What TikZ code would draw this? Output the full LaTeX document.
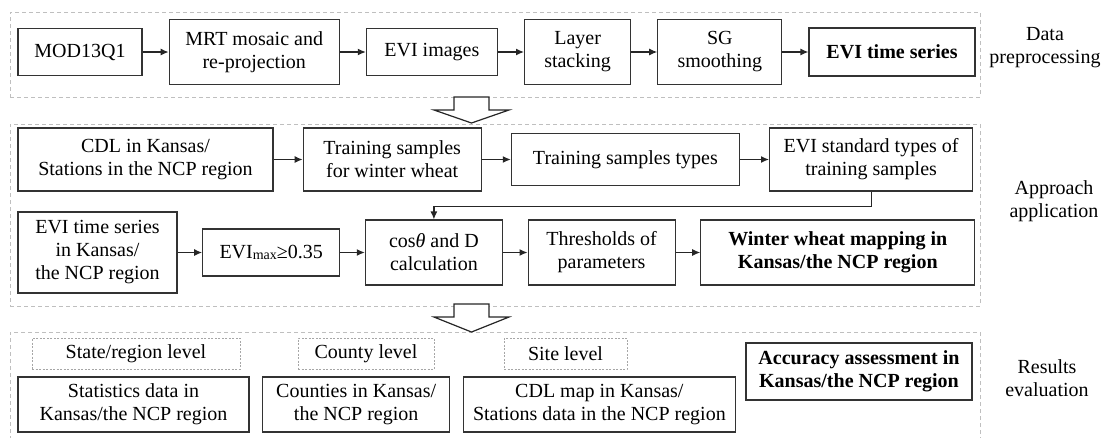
\documentclass[tikz,border=0pt]{standalone}
\usepackage{fontspec}
\setmainfont{Liberation Serif}
\usetikzlibrary{positioning,arrows.meta}

\begin{document}
\begin{tikzpicture}[
  x=1pt, y=-1pt,
  font=\fontsize{20}{23}\selectfont,
  box/.style={draw=black!80, line width=1.2pt, align=center, inner sep=2pt},
  result/.style={box, font=\fontsize{20}{23}\selectfont\bfseries},
  stage/.style={draw=black!25, dash pattern=on 4pt off 3pt, line width=0.9pt, inner sep=0pt},
  level/.style={draw=black!35, dash pattern=on 2pt off 1.5pt, line width=0.8pt, align=center},
  tag/.style={align=center},
  arrow/.style={-{Latex[length=8pt,width=7pt]}, line width=1.2pt, draw=black!85},
  bigarrow/.style={draw=black!85, line width=1.2pt, fill=white}
]
\useasboundingbox (0,0) rectangle (1104,437);
\clip (0,0) rectangle (1104,437);

% stage frames
\node[stage, minimum width=970, minimum height=85] (prepframe) at (495,54.5) {};
\node[stage, minimum width=970, minimum height=182] (apprframe) at (495,215) {};
\node[stage, minimum width=970, minimum height=140] (evalframe) at (495,402) {};

% data preprocessing
\node[box, minimum width=124, minimum height=47] (mod) at (80,52) {MOD13Q1};
\node[box, minimum width=170, minimum height=65, right=26pt of mod] (mrt) {MRT mosaic and\\re-projection};
\node[box, minimum width=131, minimum height=47, right=26pt of mrt] (evi) {EVI images};
\node[box, minimum width=106, minimum height=65, right=26pt of evi] (layer) {Layer\\stacking};
\node[box, minimum width=124, minimum height=65, right=26pt of layer] (sg) {SG\\smoothing};
\node[result, minimum width=166, minimum height=48, right=26pt of sg] (evits) {EVI time series};

% approach application
\node[box, minimum width=255, minimum height=63] (cdl) at (145.5,159.5) {CDL in Kansas/\\Stations in the NCP region};
\node[box, minimum width=178, minimum height=63, right=29pt of cdl] (train) {Training samples\\for winter wheat};
\node[box, minimum width=228, minimum height=52, right=29pt of train] (types) {Training samples types};
\node[box, minimum width=203, minimum height=63, right=29pt of types] (std) {EVI standard types of\\training samples};

\node[box, minimum width=159, minimum height=81] (tsk) at (97.5,252.5) {EVI time series\\in Kansas/\\the NCP region};
\node[box, minimum width=137, minimum height=47, right=24.5pt of tsk] (evimax) {EVI\raisebox{-1.5pt}{\fontsize{14}{14}\selectfont max}≥0.35};
\node[box, minimum width=137, minimum height=65, right=24.5pt of evimax] (cos) {cos\textit{θ} and D\\calculation};
\node[box, minimum width=147, minimum height=65, right=24.5pt of cos] (thres) {Thresholds of\\parameters};
\node[result, minimum width=274, minimum height=65, right=24.5pt of thres] (mapping) {Winter wheat mapping in\\Kansas/the NCP region};

% results evaluation
\node[level, minimum width=208, minimum height=31] (statelvl) at (136,353.5) {State/region level};
\node[level, minimum width=136, minimum height=31] (countylvl) at (366,353.5) {County level};
\node[level, minimum width=123, minimum height=31] (sitelvl) at (565.5,353.5) {Site level};
\node[box, minimum width=231, minimum height=55] (stat) at (133.5,404.5) {Statistics data in\\Kansas/the NCP region};
\node[box, minimum width=187, minimum height=55, right=12.5pt of stat] (county) {Counties in Kansas/\\the NCP region};
\node[box, minimum width=272, minimum height=55, right=12.5pt of county] (cdlmap) {CDL map in Kansas/\\Stations data in the NCP region};
\node[result, minimum width=226, minimum height=57] (acc) at (859,371.5) {Accuracy assessment in\\Kansas/the NCP region};

% stage names
\node[tag] (prep) at (1045,48) {Data\\preprocessing};
\node[tag] (appr) at (1054,201) {Approach\\application};
\node[tag] (eval) at (1047,378) {Results\\evaluation};

\draw[arrow] (mod) -- (mrt);
\draw[arrow] (mrt) -- (evi);
\draw[arrow] (evi) -- (layer);
\draw[arrow] (layer) -- (sg);
\draw[arrow] (sg) -- (evits);
\draw[arrow] (cdl) -- (train);
\draw[arrow] (train) -- (types);
\draw[arrow] (types) -- (std);
\draw[arrow] (std.south) -- ++(0,15) -| (cos.north);
\draw[arrow] (tsk) -- (evimax);
\draw[arrow] (evimax) -- (cos);
\draw[arrow] (cos) -- (thres);
\draw[arrow] (thres) -- (mapping);

% hollow arrows between stages
\draw[bigarrow] (454,97) -- (454,110) -- (434,110) -- (471.5,123) -- (509,110) -- (489,110) -- (489,97) -- cycle;
\draw[bigarrow] (454,304) -- (454,317) -- (434,317) -- (471.5,332) -- (509,317) -- (489,317) -- (489,304) -- cycle;
\end{tikzpicture}
\end{document}
